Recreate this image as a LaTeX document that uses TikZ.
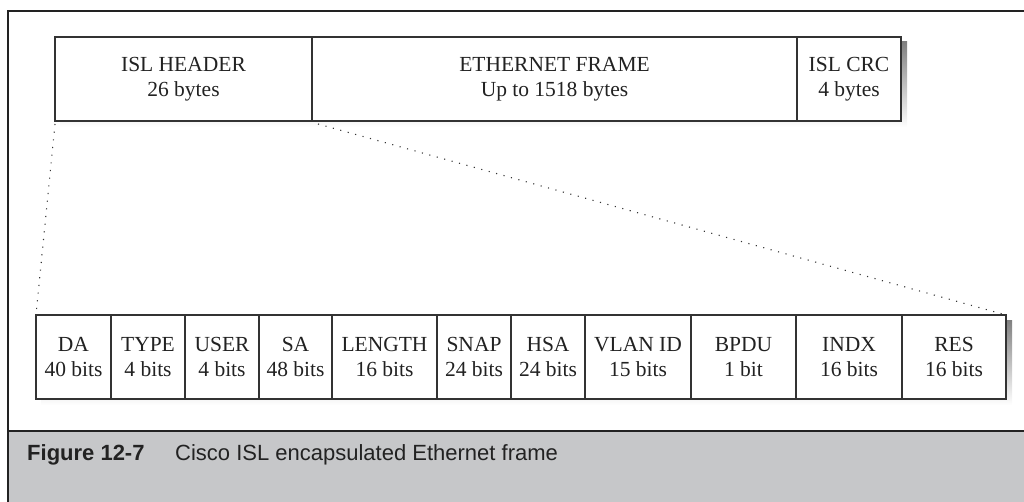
\documentclass[tikz,border=0pt]{standalone}
\usepackage{fontspec}
\setmainfont{Liberation Serif}
\newfontfamily\capfont{Liberation Sans}
\usetikzlibrary{calc}
\definecolor{ink}{HTML}{222222}
\definecolor{edge}{HTML}{333333}
\definecolor{shade}{HTML}{C2C2C2}
\definecolor{band}{HTML}{C6C7C9}
\tikzset{
  field/.style={draw=edge, line width=1.1pt, fill=white, minimum height=84pt,
    inner sep=0pt, outer sep=0pt, align=center, anchor=north west,
    text=ink, font=\fontsize{21.5}{25.5}\selectfont},
  frameline/.style={draw=ink, line width=2.5pt},
  dotline/.style={draw=edge, line width=1.1pt, dash pattern=on 1.1pt off 6.6pt},
  caption/.style={anchor=base west, text=ink, inner sep=0pt,
    font=\capfont\fontsize{22}{26}\selectfont}
}
\begin{document}
\begin{tikzpicture}[x=1pt, y=-1pt]
\useasboundingbox (0,0) rectangle (1024,502);

% caption band and outer frame
\fill[band] (8,431) rectangle (1024,502);
\draw[frameline] (8,431) -- (1024,431);
\draw[frameline] (8,502) -- (8,11) -- (1024,11);

% ISL frame (top row)
\fill[shade] (60,42) rectangle (907,127);
\node[field, minimum width=257pt] (hdr) at (55,37) {ISL HEADER\\26 bytes};
\node[field, minimum width=485pt] (eth) at (312,37) {ETHERNET FRAME\\Up to 1518 bytes};
\node[field, minimum width=104pt] (crc) at (797,37) {ISL CRC\\4 bytes};

% ISL header fields (bottom row)
\fill[shade] (41,320) rectangle (1012,405);
\node[field, minimum width=75pt]  (da)   at (36,315)  {DA\\40 bits};
\node[field, minimum width=74pt]  (type) at (111,315) {TYPE\\4 bits};
\node[field, minimum width=74pt]  (user) at (185,315) {USER\\4 bits};
\node[field, minimum width=73pt]  (sa)   at (259,315) {SA\\48 bits};
\node[field, minimum width=105pt] (len)  at (332,315) {LENGTH\\16 bits};
\node[field, minimum width=74pt]  (snap) at (437,315) {SNAP\\24 bits};
\node[field, minimum width=74pt]  (hsa)  at (511,315) {HSA\\24 bits};
\node[field, minimum width=106pt] (vlan) at (585,315) {VLAN ID\\15 bits};
\node[field, minimum width=105pt] (bpdu) at (691,315) {BPDU\\1 bit};
\node[field, minimum width=106pt] (indx) at (796,315) {INDX\\16 bits};
\node[field, minimum width=104pt] (res)  at (902,315) {RES\\16 bits};

% expansion of the header
\draw[dotline] ($(hdr.south west)+(0,3)$) -- (da.north west);
\draw[dotline] ($(hdr.south east)+(6,3)$) -- (res.north east);

% caption
\node[caption] (fignum) at (27,460) {\bfseries Figure 12-7};
\node[caption] (captext) at (175,460) {Cisco ISL encapsulated Ethernet frame};
\end{tikzpicture}
\end{document}
